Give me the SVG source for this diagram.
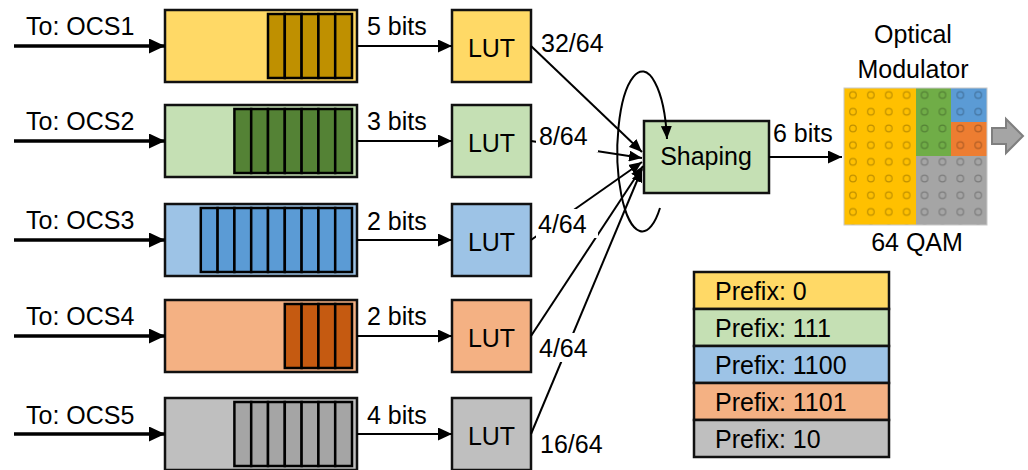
<svg xmlns="http://www.w3.org/2000/svg" width="1028" height="470" viewBox="0 0 1028 470">
  <style>
    text { font-family: "Liberation Sans", Arial, sans-serif; font-size: 25px; fill: #000; }
    .mid { text-anchor: middle; }
    .box { stroke: #111; stroke-width: 2.5; }
    .cell { stroke: #000; stroke-width: 2.5; }
    .in { stroke: #000; stroke-width: 3.5; fill: none; marker-end: url(#headBig); }
    .out { stroke: #000; stroke-width: 2; fill: none; marker-end: url(#headMid); }
    .feed { stroke: #000; stroke-width: 2; fill: none; marker-end: url(#headSmall); }
    .bg { fill: #fff; }
    .y1 { fill: #ffd966; } .y2 { fill: #bf9000; }
    .g1 { fill: #c5e0b4; } .g2 { fill: #548235; }
    .b1 { fill: #9dc3e6; } .b2 { fill: #5b9bd5; }
    .o1 { fill: #f4b183; } .o2 { fill: #c55a11; }
    .k1 { fill: #bfbfbf; } .k2 { fill: #a5a5a5; }
  </style>
  <defs>
    <marker id="headBig" markerUnits="userSpaceOnUse" markerWidth="16" markerHeight="15" refX="16" refY="7.5" orient="auto">
      <path d="M0,0 L16,7.5 L0,15 z" fill="#000"/>
    </marker>
    <marker id="headMid" markerUnits="userSpaceOnUse" markerWidth="14" markerHeight="13" refX="14" refY="6.5" orient="auto">
      <path d="M0,0 L14,6.5 L0,13 z" fill="#000"/>
    </marker>
    <marker id="headSmall" markerUnits="userSpaceOnUse" markerWidth="13" markerHeight="11" refX="13" refY="5.5" orient="auto">
      <path d="M0,0 L13,5.5 L0,11 z" fill="#000"/>
    </marker>
    <pattern id="dots" patternUnits="userSpaceOnUse" x="844" y="86.7" width="17.9" height="16.7">
      <circle cx="8.95" cy="8.35" r="3.3" fill="none" stroke="rgba(0,0,0,0.25)" stroke-width="1.2"/>
    </pattern>
  </defs>

  <!-- input labels -->
  <text x="26" y="35">To: OCS1</text>
  <text x="26" y="130">To: OCS2</text>
  <text x="26" y="229">To: OCS3</text>
  <text x="26" y="325">To: OCS4</text>
  <text x="26" y="424">To: OCS5</text>

  <!-- queues -->
  <g id="queue1">
    <rect class="box y1" x="165" y="10" width="192" height="72"/>
    <g class="cell y2">
      <rect x="268" y="14" width="16.8" height="64"/><rect x="284.8" y="14" width="16.8" height="64"/>
      <rect x="301.6" y="14" width="16.8" height="64"/><rect x="318.4" y="14" width="16.8" height="64"/>
      <rect x="335.2" y="14" width="16.8" height="64"/>
    </g>
  </g>
  <g id="queue2">
    <rect class="box g1" x="165" y="105" width="192" height="72"/>
    <g class="cell g2">
      <rect x="234.4" y="109" width="16.8" height="64"/><rect x="251.2" y="109" width="16.8" height="64"/>
      <rect x="268" y="109" width="16.8" height="64"/><rect x="284.8" y="109" width="16.8" height="64"/>
      <rect x="301.6" y="109" width="16.8" height="64"/><rect x="318.4" y="109" width="16.8" height="64"/>
      <rect x="335.2" y="109" width="16.8" height="64"/>
    </g>
  </g>
  <g id="queue3">
    <rect class="box b1" x="165" y="204" width="192" height="72"/>
    <g class="cell b2">
      <rect x="200.8" y="208" width="16.8" height="64"/><rect x="217.6" y="208" width="16.8" height="64"/>
      <rect x="234.4" y="208" width="16.8" height="64"/><rect x="251.2" y="208" width="16.8" height="64"/>
      <rect x="268" y="208" width="16.8" height="64"/><rect x="284.8" y="208" width="16.8" height="64"/>
      <rect x="301.6" y="208" width="16.8" height="64"/><rect x="318.4" y="208" width="16.8" height="64"/>
      <rect x="335.2" y="208" width="16.8" height="64"/>
    </g>
  </g>
  <g id="queue4">
    <rect class="box o1" x="165" y="300" width="192" height="72"/>
    <g class="cell o2">
      <rect x="284.8" y="304" width="16.8" height="64"/><rect x="301.6" y="304" width="16.8" height="64"/>
      <rect x="318.4" y="304" width="16.8" height="64"/><rect x="335.2" y="304" width="16.8" height="64"/>
    </g>
  </g>
  <g id="queue5">
    <rect class="box k1" x="165" y="398" width="192" height="72"/>
    <g class="cell k2">
      <rect x="234.4" y="402" width="16.8" height="64"/><rect x="251.2" y="402" width="16.8" height="64"/>
      <rect x="268" y="402" width="16.8" height="64"/><rect x="284.8" y="402" width="16.8" height="64"/>
      <rect x="301.6" y="402" width="16.8" height="64"/><rect x="318.4" y="402" width="16.8" height="64"/>
      <rect x="335.2" y="402" width="16.8" height="64"/>
    </g>
  </g>

  <!-- lookup tables -->
  <g id="lut1"><rect class="box y1" x="452" y="10" width="79" height="72"/><text class="mid" x="491.5" y="57">LUT</text></g>
  <g id="lut2"><rect class="box g1" x="452" y="105" width="79" height="72"/><text class="mid" x="491.5" y="152">LUT</text></g>
  <g id="lut3"><rect class="box b1" x="452" y="204" width="79" height="72"/><text class="mid" x="491.5" y="251">LUT</text></g>
  <g id="lut4"><rect class="box o1" x="452" y="300" width="79" height="72"/><text class="mid" x="491.5" y="347">LUT</text></g>
  <g id="lut5"><rect class="box k1" x="452" y="398" width="79" height="72"/><text class="mid" x="491.5" y="445">LUT</text></g>

  <!-- shaping stage -->
  <g id="shaping">
    <rect class="box g1" x="644" y="121" width="125" height="72"/>
    <text class="mid" x="706" y="165">Shaping</text>
  </g>

  <!-- 64-QAM constellation -->
  <g id="modulator">
    <text class="mid" x="913" y="43">Optical</text>
    <text class="mid" x="913" y="78">Modulator</text>
    <rect x="844" y="88" width="72" height="137" fill="#ffc000"/>
    <rect x="916" y="88" width="35" height="68" fill="#70ad47"/>
    <rect x="951" y="88" width="36" height="34" fill="#5b9bd5"/>
    <rect x="951" y="122" width="36" height="34" fill="#ed7d31"/>
    <rect x="916" y="156" width="71" height="69" fill="#a5a5a5"/>
    <rect x="844" y="88" width="143" height="137" fill="url(#dots)" stroke="#c8c8c8" stroke-width="1"/>
    <text class="mid" x="917" y="251">64 QAM</text>
    <polygon points="992,128 1006,128 1006,119 1023,136 1006,153 1006,144 992,144" fill="#a5a5a5" stroke="#7f7f7f" stroke-width="2"/>
  </g>

  <!-- prefix legend -->
  <g id="legend">
    <rect class="box y1" x="694" y="272" width="195" height="37"/>
    <rect class="box g1" x="694" y="309" width="195" height="37"/>
    <rect class="box b1" x="694" y="346" width="195" height="37"/>
    <rect class="box o1" x="694" y="383" width="195" height="37"/>
    <rect class="box k1" x="694" y="420" width="195" height="37"/>
    <text x="715" y="300">Prefix: 0</text>
    <text x="715" y="337">Prefix: 111</text>
    <text x="715" y="374">Prefix: 1100</text>
    <text x="715" y="411">Prefix: 1101</text>
    <text x="715" y="448">Prefix: 10</text>
  </g>

  <g id="connectors">
    <!-- inputs -->
    <line class="in" x1="14" y1="46" x2="165" y2="46"/>
    <line class="in" x1="14" y1="141" x2="165" y2="141"/>
    <line class="in" x1="14" y1="240" x2="165" y2="240"/>
    <line class="in" x1="14" y1="336" x2="165" y2="336"/>
    <line class="in" x1="14" y1="434" x2="165" y2="434"/>
    <!-- queue to LUT -->
    <line class="out" x1="357" y1="46" x2="452" y2="46"/>
    <line class="out" x1="357" y1="141" x2="452" y2="141"/>
    <line class="out" x1="357" y1="240" x2="452" y2="240"/>
    <line class="out" x1="357" y1="336" x2="452" y2="336"/>
    <line class="out" x1="357" y1="434" x2="452" y2="434"/>
    <text x="367" y="35">5 bits</text>
    <text x="367" y="130">3 bits</text>
    <text x="367" y="230">2 bits</text>
    <text x="367" y="325">2 bits</text>
    <text x="367" y="424">4 bits</text>
    <!-- LUT to shaping -->
    <line class="feed" x1="531" y1="46" x2="642" y2="152"/>
    <line class="feed" x1="531" y1="141" x2="642" y2="158"/>
    <line class="feed" x1="531" y1="240" x2="642" y2="162"/>
    <line class="feed" x1="531" y1="336" x2="643" y2="166"/>
    <line class="feed" x1="531" y1="434" x2="642" y2="169"/>
    <!-- feedback loop -->
    <path class="feed" d="M660,208 A25,80 0 1 1 667,139"/>
    <!-- probability labels -->
    <text x="541" y="52">32/64</text>
    <rect class="bg" x="536" y="126" width="62" height="26"/>
    <text x="539" y="145">8/64</text>
    <rect class="bg" x="536" y="209" width="62" height="29"/>
    <text x="538" y="233">4/64</text>
    <rect class="bg" x="536" y="333" width="62" height="29"/>
    <text x="539" y="357">4/64</text>
    <text x="540" y="453">16/64</text>
    <!-- shaping to modulator -->
    <line class="out" x1="769" y1="157" x2="842" y2="157"/>
    <text x="773" y="142">6 bits</text>
  </g>
</svg>
